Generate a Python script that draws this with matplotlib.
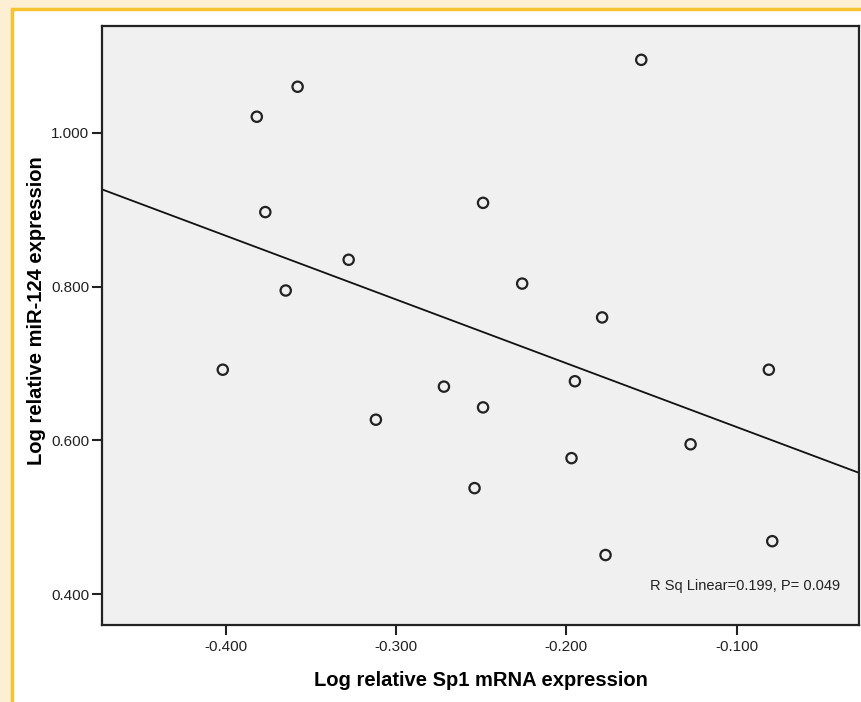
import numpy as np
import matplotlib
matplotlib.use("Agg")
import matplotlib.pyplot as plt
from matplotlib.patches import Rectangle
from matplotlib.ticker import FormatStrFormatter

# Datos
sp1 = [-0.156, -0.358, -0.382, -0.377, -0.249, -0.328, -0.365, -0.226, -0.179, -0.402,
       -0.272, -0.195, -0.081, -0.312, -0.249, -0.127, -0.197, -0.254, -0.177, -0.079]
mir124 = [1.095, 1.060, 1.021, 0.897, 0.909, 0.835, 0.795, 0.804, 0.760, 0.692,
          0.670, 0.677, 0.692, 0.627, 0.643, 0.595, 0.577, 0.538, 0.451, 0.469]
xticks = [-0.4, -0.3, -0.2, -0.1]
yticks = [0.4, 0.6, 0.8, 1.0]
anotacion = "R Sq Linear=0.199, P= 0.049"

plt.rcParams['font.family'] = ['Liberation Sans', 'DejaVu Sans']

fig = plt.figure(figsize=(8.61, 7.02), dpi=100)
fig.patch.set_facecolor('#fcefd3')

# panel blanco con borde amarillo
W, H = 861, 702
fig.patches.append(Rectangle((11.5 / W, -0.05), 1, 1.05 - 8.5 / H, transform=fig.transFigure,
                             facecolor='white', edgecolor='#f6c431', linewidth=2.5, zorder=-10))

ax = fig.add_axes([102 / W, 1 - 625 / H, 757 / W, 599 / H])
ax.set_facecolor('#f0f0f0')

x = np.array(sp1)
y = np.array(mir124)

ax.scatter(x, y, s=55, facecolors='none', edgecolors='#222222', linewidths=1.6, zorder=3)

# recta de regresion
b, a = np.polyfit(x, y, 1)
xlim = (-0.473, -0.028)
xs = np.array(xlim)
ax.plot(xs, a + b * xs, color='#111111', linewidth=1.3, zorder=2)

ax.set_xlim(xlim)
ax.set_ylim(0.360, 1.139)
ax.set_xticks(xticks)
ax.set_yticks(yticks)
ax.xaxis.set_major_formatter(FormatStrFormatter('%.3f'))
ax.yaxis.set_major_formatter(FormatStrFormatter('%.3f'))
ax.tick_params(direction='out', length=7, width=1.5, labelsize=11, colors='#222222', pad=2)
ax.tick_params(axis='x', pad=4)

for s in ax.spines.values():
    s.set_linewidth(1.6)
    s.set_color('#222222')

ax.set_xlabel("Log relative Sp1 mRNA expression", fontsize=14.5, fontweight='bold', labelpad=12)
ax.set_ylabel("Log relative miR-124 expression", fontsize=14.5, fontweight='bold')
ax.yaxis.set_label_coords(-0.074, 0.524)

ax.text(0.975, 0.065, anotacion, transform=ax.transAxes, ha='right', va='center',
        fontsize=10.5, color='#222222')

fig.savefig("out.png", dpi=100, facecolor=fig.get_facecolor())
